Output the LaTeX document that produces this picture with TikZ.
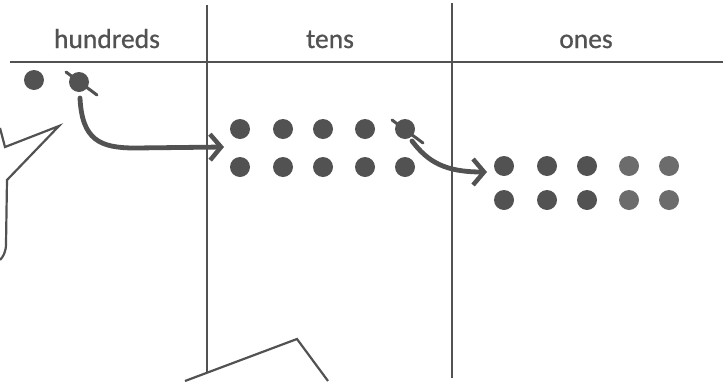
\documentclass[tikz,border=0pt]{standalone}
\usepackage{fontspec}
\setmainfont{Carlito}
\newfontfamily\headfont[FakeBold=0.8]{Carlito}
\usetikzlibrary{arrows.meta}
\definecolor{ink}{HTML}{525252}
\definecolor{inklight}{HTML}{6C6C6C}
\tikzset{
  rule/.style={draw=ink, line width=2.2pt},
  dot/.style={circle, fill=ink, minimum size=20pt, inner sep=0pt},
  dotlight/.style={circle, fill=inklight, minimum size=20pt, inner sep=0pt},
  head/.style={text=ink, font=\headfont\fontsize{27.5}{30}\selectfont, anchor=base},
  mover/.style={draw=ink, line width=4.8pt, line cap=round, line join=round,
    -{Straight Barb[length=11pt,width=26pt,line width=4.5pt]}},
  strike/.style={draw=ink, line width=3pt, line cap=round},
  bubble/.style={draw=ink, line width=2.2pt, line join=miter}
}
\begin{document}
\begin{tikzpicture}[x=1pt,y=-1pt]
\useasboundingbox (0,0) rectangle (723,381);
% table rules
\draw[rule] (10,62) -- (723,62);
\draw[rule] (207,5) -- (207,372);
\draw[rule] (452,3) -- (452,378);
% headings
\node[head] (hh) at (107,48) {hundreds};
\node[head] (ht) at (330,48) {tens};
\node[head] (ho) at (586,48) {ones};
% hundreds dots
\node[dot] (h1) at (34,80) {};
\node[dot] (h2) at (79,82) {};
% tens dots
\foreach \x [count=\i] in {240,283,323,365,405}{
  \node[dot] (ta\i) at (\x,129) {};
  \node[dot] (tb\i) at (\x,167) {};
}
% ones dots
\foreach \x [count=\i] in {504,547,587}{
  \node[dot] (oa\i) at (\x,166) {};
  \node[dot] (ob\i) at (\x,200) {};
}
\foreach \x [count=\i from 4] in {629,669}{
  \node[dotlight] (oa\i) at (\x,166) {};
  \node[dotlight] (ob\i) at (\x,200) {};
}
% strike-throughs
\draw[strike] (66,72) -- (97,95);
\draw[strike] (392,120) -- (423,143);
% arrows
\coordinate (s1) at (80,98);
\coordinate (e1) at (224,147);
\draw[mover] (s1) .. controls (82,140) and (100,148) .. (135,148) -- (e1);
\coordinate (s2) at (412,141);
\coordinate (e2) at (487,172);
\draw[mover] (s2) .. controls (428,162) and (445,172) .. (e2);
% left speech bubble
\draw[bubble] (0,128) -- (5,147) -- (59,126) -- (7,180) -- (6,244)
  .. controls (6,252) and (3,257) .. (0,260);
% bottom speech bubble
\draw[bubble] (185,381) -- (297,339) -- (328,381);
\end{tikzpicture}
\end{document}
